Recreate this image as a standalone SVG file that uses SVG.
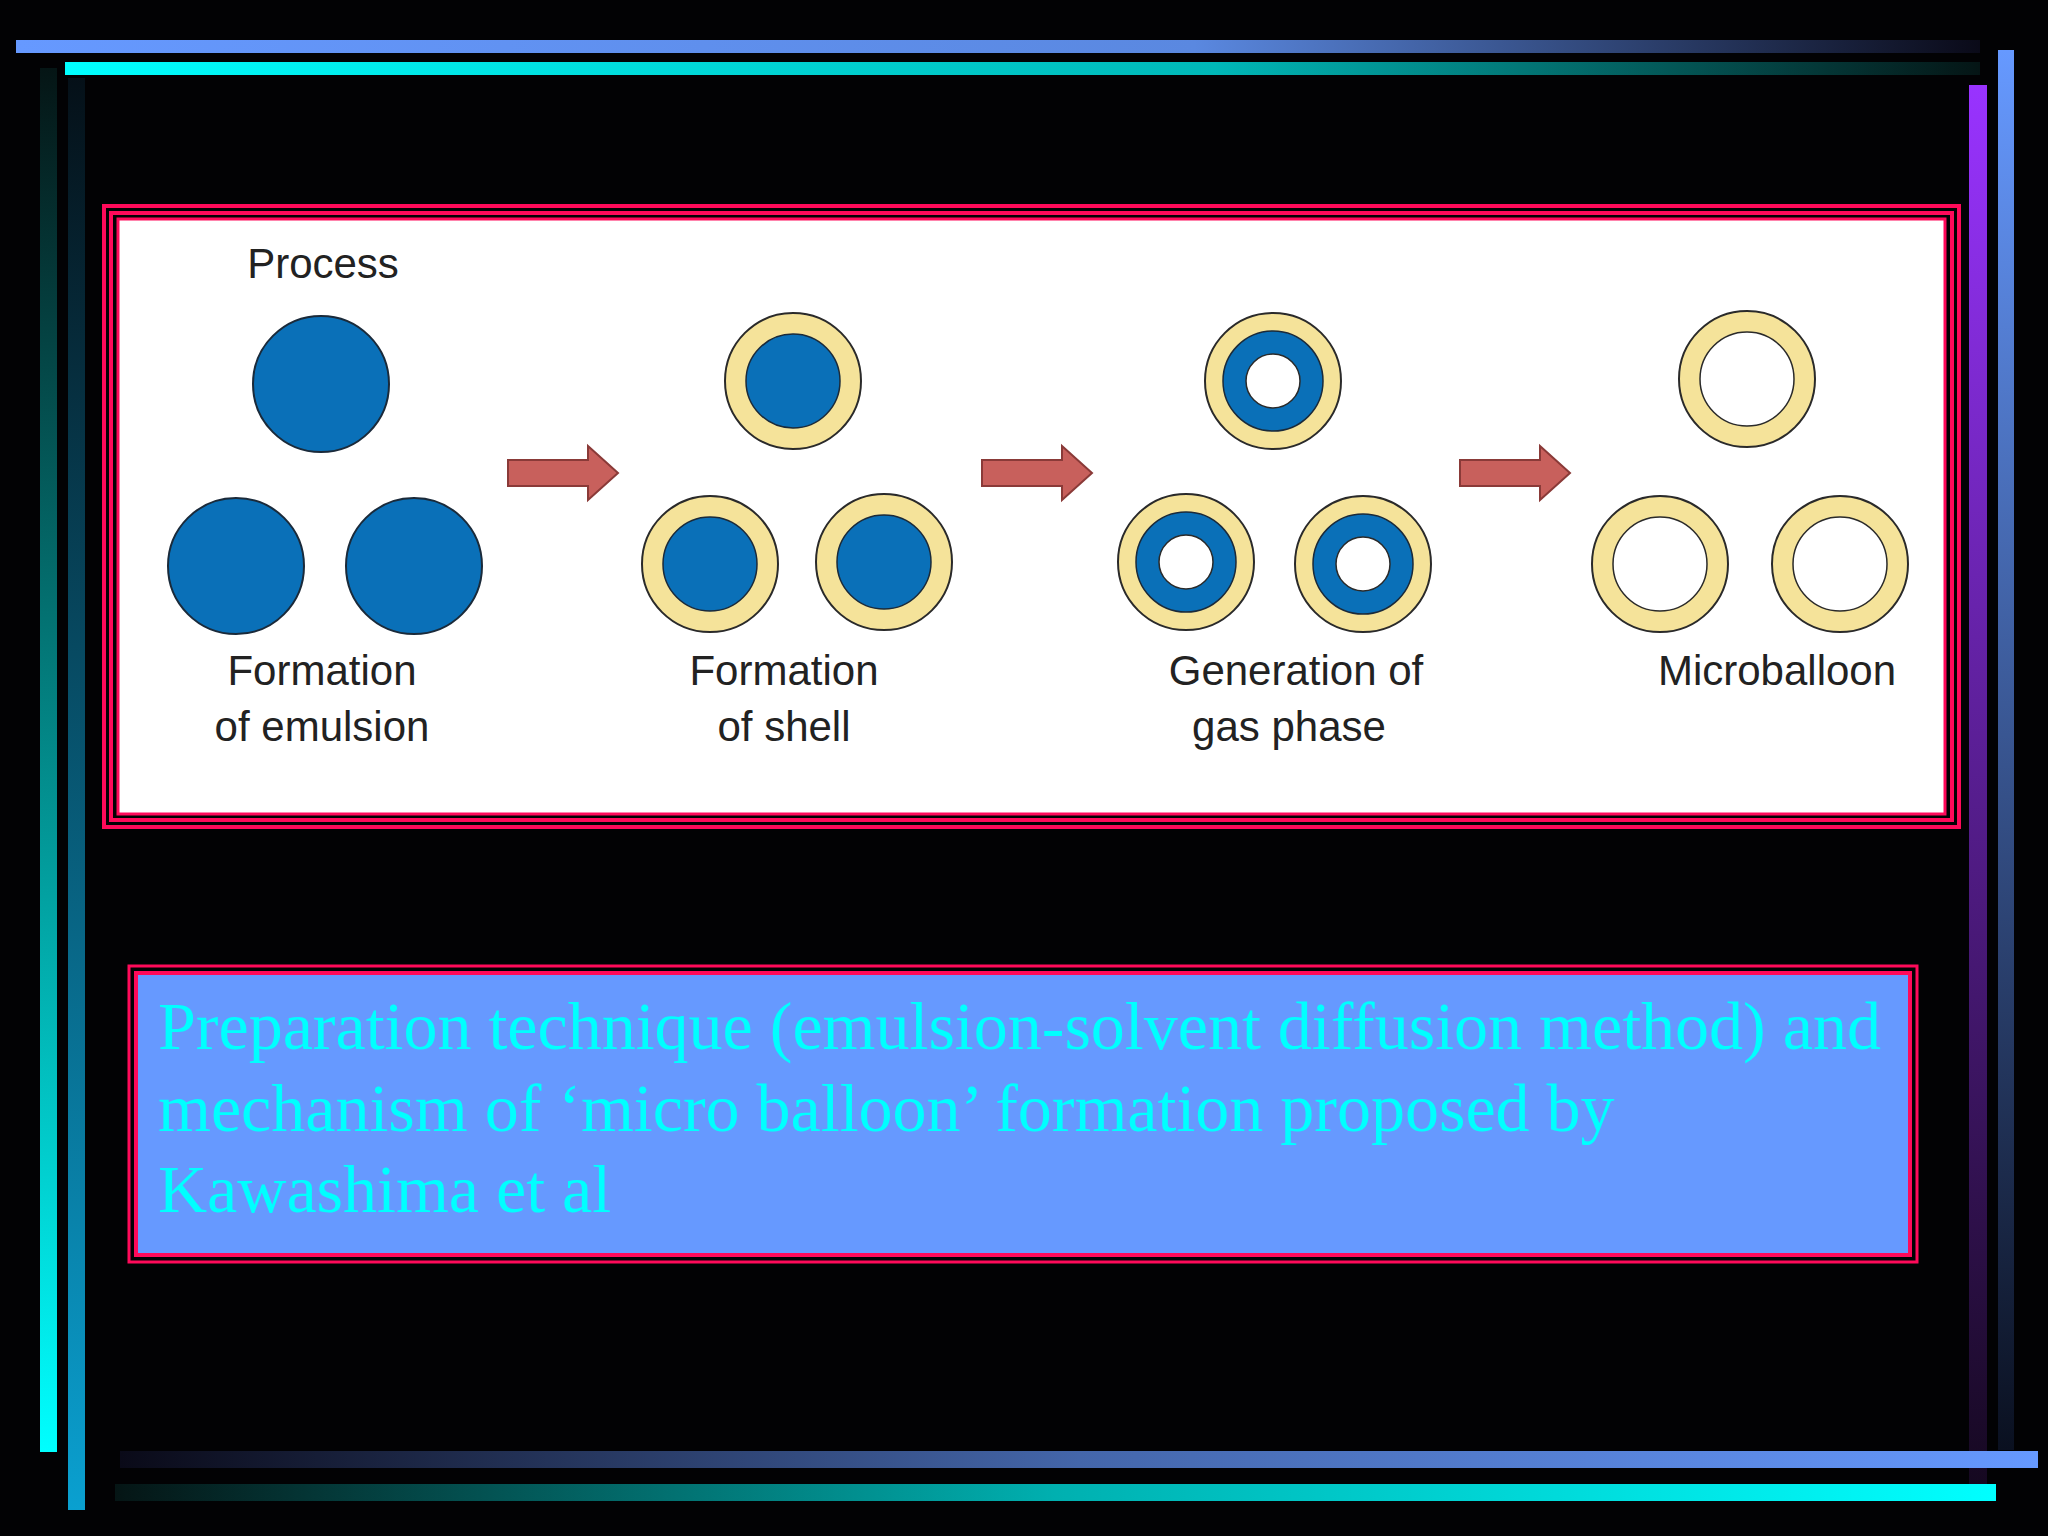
<svg xmlns="http://www.w3.org/2000/svg" width="2048" height="1536" viewBox="0 0 2048 1536">
<defs>
<linearGradient id="gTop1" x1="0" x2="1"><stop offset="0" stop-color="#6699ff"/><stop offset="0.6" stop-color="#5a88e0"/><stop offset="1" stop-color="#0a0a18"/></linearGradient>
<linearGradient id="gTop2" x1="0" x2="1"><stop offset="0" stop-color="#00ffff"/><stop offset="0.6" stop-color="#00b8b8"/><stop offset="1" stop-color="#051515"/></linearGradient>
<linearGradient id="gBot1" x1="0" x2="1"><stop offset="0" stop-color="#0a0a18"/><stop offset="0.5" stop-color="#4466aa"/><stop offset="1" stop-color="#6699ff"/></linearGradient>
<linearGradient id="gBot2" x1="0" x2="1"><stop offset="0" stop-color="#051515"/><stop offset="0.5" stop-color="#00b0b0"/><stop offset="1" stop-color="#00ffff"/></linearGradient>
<linearGradient id="gL1" x1="0" y1="0" x2="0" y2="1"><stop offset="0" stop-color="#051515"/><stop offset="1" stop-color="#00ffff"/></linearGradient>
<linearGradient id="gL2" x1="0" y1="0" x2="0" y2="1"><stop offset="0" stop-color="#051018"/><stop offset="1" stop-color="#0aa0d0"/></linearGradient>
<linearGradient id="gR1" x1="0" y1="0" x2="0" y2="1"><stop offset="0" stop-color="#9933ff"/><stop offset="1" stop-color="#150820"/></linearGradient>
<linearGradient id="gR2" x1="0" y1="0" x2="0" y2="1"><stop offset="0" stop-color="#6699ff"/><stop offset="1" stop-color="#0a1020"/></linearGradient>
<g id="arrow"><polygon points="0,-13 80,-13 80,-27 110,0 80,27 80,13 0,13" fill="#c8605c" stroke="#8a3a38" stroke-width="2"/></g>
</defs>
<style>
.lbl{font-family:"Liberation Sans",Arial,sans-serif;font-size:42px;fill:#222;text-anchor:middle}
.cap{font-family:"Liberation Serif","Times New Roman",serif;font-size:68px;fill:#00ffff}
.blue{fill:#0a70b8;stroke:#1a2a3a;stroke-width:2}
.shell{fill:#f5e39a;stroke:#2a2a2a;stroke-width:2}
.core{fill:#0a70b8;stroke:#1a2a3a;stroke-width:1.5}
.void{fill:#fff;stroke:#2a2a2a;stroke-width:1.5}
</style>
<rect width="2048" height="1536" fill="#020204"/>
<g id="frame">
<rect x="16" y="40" width="1964" height="13" fill="url(#gTop1)"/>
<rect x="65" y="62" width="1915" height="13" fill="url(#gTop2)"/>
<rect x="40" y="68" width="17" height="1384" fill="url(#gL1)"/>
<rect x="68" y="78" width="17" height="1432" fill="url(#gL2)"/>
<rect x="1969" y="85" width="18" height="1400" fill="url(#gR1)"/>
<rect x="1998" y="50" width="16" height="1400" fill="url(#gR2)"/>
<rect x="120" y="1451" width="1918" height="17" fill="url(#gBot1)"/>
<rect x="115" y="1484" width="1881" height="17" fill="url(#gBot2)"/>
</g>
<g id="figure">
<rect x="104" y="206" width="1855" height="621" fill="none" stroke="#ff0a5a" stroke-width="4"/>
<rect x="111" y="213" width="1841" height="607" fill="none" stroke="#ff0a5a" stroke-width="4"/>
<rect x="118" y="219" width="1827" height="595" fill="#fff" stroke="#ff0a5a" stroke-width="3"/>
<text class="lbl" x="323" y="278">Process</text>
</g>
<g id="stage1">
<circle class="blue" cx="321" cy="384" r="68"/><circle class="blue" cx="236" cy="566" r="68"/><circle class="blue" cx="414" cy="566" r="68"/>
<text class="lbl" x="322" y="685">Formation</text><text class="lbl" x="322" y="741">of emulsion</text>
</g>
<g id="stage2">
<circle class="shell" cx="793" cy="381" r="68"/><circle class="core" cx="793" cy="381" r="47"/>
<circle class="shell" cx="710" cy="564" r="68"/><circle class="core" cx="710" cy="564" r="47"/>
<circle class="shell" cx="884" cy="562" r="68"/><circle class="core" cx="884" cy="562" r="47"/>
<text class="lbl" x="784" y="685">Formation</text><text class="lbl" x="784" y="741">of shell</text>
</g>
<g id="stage3">
<circle class="shell" cx="1273" cy="381" r="68"/><circle class="core" cx="1273" cy="381" r="50"/><circle class="void" cx="1273" cy="381" r="27"/>
<circle class="shell" cx="1186" cy="562" r="68"/><circle class="core" cx="1186" cy="562" r="50"/><circle class="void" cx="1186" cy="562" r="27"/>
<circle class="shell" cx="1363" cy="564" r="68"/><circle class="core" cx="1363" cy="564" r="50"/><circle class="void" cx="1363" cy="564" r="27"/>
<text class="lbl" x="1296" y="685">Generation of</text><text class="lbl" x="1289" y="741">gas phase</text>
</g>
<g id="stage4">
<circle class="shell" cx="1747" cy="379" r="68"/><circle class="void" cx="1747" cy="379" r="47"/>
<circle class="shell" cx="1660" cy="564" r="68"/><circle class="void" cx="1660" cy="564" r="47"/>
<circle class="shell" cx="1840" cy="564" r="68"/><circle class="void" cx="1840" cy="564" r="47"/>
<text class="lbl" x="1777" y="685">Microballoon</text>
</g>
<g id="connectors">
<use href="#arrow" x="508" y="473"/><use href="#arrow" x="982" y="473"/><use href="#arrow" x="1460" y="473"/>
</g>
<g id="caption">
<rect x="129" y="966" width="1788" height="296" fill="none" stroke="#ff0a5a" stroke-width="3"/>
<rect x="136" y="973" width="1774" height="282" fill="#6699ff" stroke="#ff0a5a" stroke-width="4"/>
<text class="cap" x="158" y="1049">Preparation technique (emulsion-solvent diffusion method) and</text>
<text class="cap" x="158" y="1131">mechanism of ‘micro balloon’ formation proposed by</text>
<text class="cap" x="158" y="1212">Kawashima et al</text>
</g>
</svg>
